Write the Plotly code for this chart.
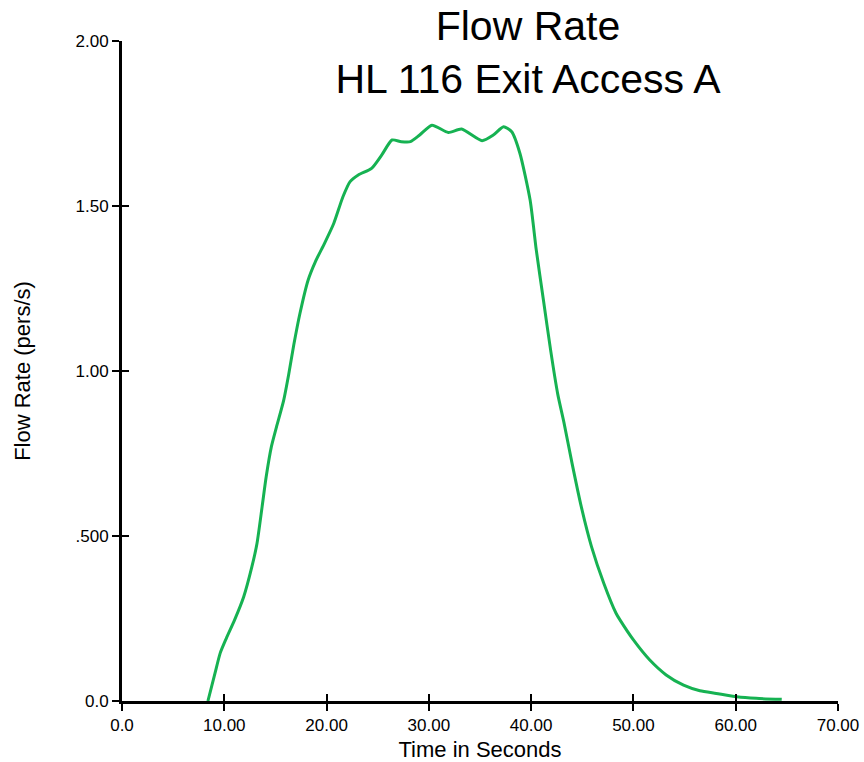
import plotly.graph_objects as go

time_s = [8.4, 9.1, 9.6, 10.2, 11.0, 11.9, 12.7, 13.2, 13.7, 14.1, 14.6, 15.1, 15.8,
          16.3, 16.8, 17.4, 18.2, 18.9, 19.8, 20.7, 21.6, 22.3, 23.1, 24.4, 25.4,
          26.4, 27.3, 28.2, 29.1, 30.3, 31.9, 33.2, 35.2, 36.3, 37.3, 38.1, 38.9,
          39.9, 40.5, 41.2, 41.9, 42.6, 43.2, 44.0, 44.9, 45.9, 47.1, 48.3, 48.7,
          50.0, 51.6, 53.2, 54.9, 56.5, 58.1, 60.1, 62.0, 64.5]
flow_rate = [0.0, 0.085, 0.145, 0.19, 0.245, 0.316, 0.407, 0.478, 0.589, 0.68, 0.77,
             0.83, 0.91, 0.99, 1.08, 1.175, 1.276, 1.331, 1.387, 1.447, 1.528,
             1.574, 1.594, 1.614, 1.655, 1.70, 1.695, 1.695, 1.715, 1.745, 1.723,
             1.733, 1.698, 1.715, 1.74, 1.725, 1.66, 1.518, 1.367, 1.215, 1.064,
             0.93, 0.845, 0.72, 0.589, 0.468, 0.357, 0.266, 0.245, 0.185, 0.124,
             0.079, 0.048, 0.031, 0.023, 0.013, 0.008, 0.005]

x_tickvals = [0, 10, 20, 30, 40, 50, 60, 70]
x_ticktext = ["0.0", "10.00", "20.00", "30.00", "40.00", "50.00", "60.00", "70.00"]
y_tickvals = [0, 0.5, 1.0, 1.5, 2.0]
y_ticktext = ["0.0", ".500", "1.00", "1.50", "2.00"]

FONT = "Liberation Sans, Arial, sans-serif"

fig = go.Figure()
fig.add_trace(go.Scatter(
    x=time_s, y=flow_rate, mode="lines",
    line=dict(color="rgb(22,178,82)", width=3, shape="spline", smoothing=0.6),
    showlegend=False, hoverinfo="x+y",
))
# empty trace so the overlay axes (inner half of crossing ticks) are drawn
fig.add_trace(go.Scatter(x=[None], y=[None], xaxis="x2", yaxis="y2",
                         showlegend=False, hoverinfo="skip"))

axis_common = dict(showgrid=False, zeroline=False, showline=True, linecolor="black",
                   linewidth=3, ticks="outside", ticklen=7, tickwidth=2,
                   tickcolor="black", automargin=False, ticklabeloverflow="allow",
                   tickfont=dict(family=FONT, size=17, color="black"))
inner_common = dict(showticklabels=False, showgrid=False, zeroline=False,
                    showline=False, ticks="inside", ticklen=7, tickwidth=2,
                    tickcolor="black", automargin=False)

fig.update_layout(
    template="none",
    width=864, height=762,
    margin=dict(l=122, r=26, t=41, b=61, autoexpand=False),
    paper_bgcolor="white", plot_bgcolor="white",
    title=dict(text="Flow Rate<br>HL 116 Exit Access A",
               font=dict(family=FONT, size=41, color="black"),
               x=528 / 864, xanchor="center", xref="container",
               y=0.9474, yanchor="top", yref="container"),
    xaxis=dict(range=[0, 70], tickvals=x_tickvals, ticktext=x_ticktext,
               title=dict(text="Time in Seconds", standoff=9,
                          font=dict(family=FONT, size=22, color="black")),
               **axis_common),
    yaxis=dict(range=[0, 2], tickvals=y_tickvals, ticktext=y_ticktext,
               title=dict(text="Flow Rate (pers/s)", standoff=39,
                          font=dict(family=FONT, size=22, color="black")),
               **axis_common),
    xaxis2=dict(range=[0, 70], overlaying="x", anchor="y2", side="bottom",
                tickvals=x_tickvals, **inner_common),
    yaxis2=dict(range=[0, 2], overlaying="y", anchor="x2", side="left",
                tickvals=y_tickvals, **inner_common),
)

# remove the browser's default 8px body margin so the 864x762 figure fills the window exactly
fig.write_html(
    "out.html",
    config={"displayModeBar": False},
    post_script="document.body.style.margin='0';",
)
